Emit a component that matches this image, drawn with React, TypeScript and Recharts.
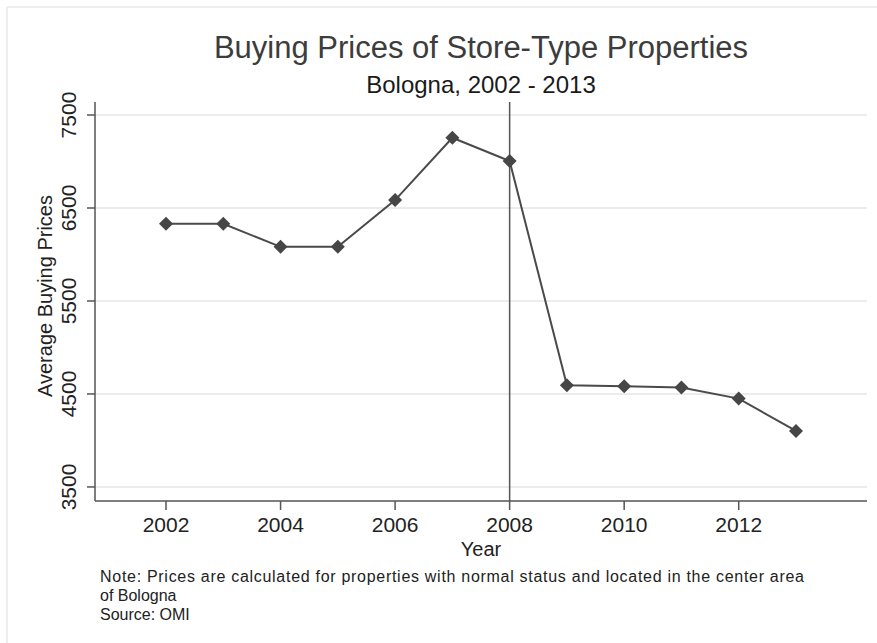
import React from 'react';
import { LineChart, Line, XAxis, YAxis, CartesianGrid, ReferenceLine } from 'recharts';

const years = [2002, 2003, 2004, 2005, 2006, 2007, 2008, 2009, 2010, 2011, 2012, 2013];
const prices = [6330, 6330, 6082, 6082, 6585, 7256, 7005, 4594, 4583, 4569, 4450, 4102];
const xTicks = [2002, 2004, 2006, 2008, 2010, 2012];
const yTicks = [3500, 4500, 5500, 6500, 7500];

const data = years.map((year, i) => ({ year, price: prices[i] }));

const FONT = '"Liberation Sans", Arial, Helvetica, sans-serif';

const Diamond = (props: any) => {
  const { cx, cy, index } = props;
  if (cx == null || cy == null) return null;
  const r = 7;
  return (
    <polygon
      key={`d-${index}`}
      points={`${cx},${cy - r} ${cx + r},${cy} ${cx},${cy + r} ${cx - r},${cy}`}
      fill="#464646"
      stroke="none"
    />
  );
};

const YTick = (props: any) => {
  const { x, y, payload } = props;
  const bx = x - 9;
  return (
    <text
      x={bx}
      y={y}
      transform={`rotate(-90, ${bx}, ${y})`}
      textAnchor="middle"
      fontSize={21}
      fill="#222"
      fontFamily={FONT}
    >
      {payload.value}
    </text>
  );
};

export default function App() {
  return (
    <div style={{ position: 'absolute', left: 0, top: 0, width: 877, height: 643, background: '#fff', fontFamily: FONT }}>
      <LineChart width={877} height={643} data={data} margin={{ top: 102, right: 10, bottom: 0, left: 0 }}>
        <CartesianGrid horizontal vertical={false} stroke="#e6e6e6" strokeWidth={1.5} syncWithTicks />
        <XAxis
          dataKey="year"
          type="number"
          domain={[2000.76, 2014.24]}
          ticks={xTicks}
          allowDataOverflow
          height={142}
          tickSize={9}
          tickMargin={7}
          stroke="#555"
          strokeWidth={1.5}
          tick={{ fontSize: 21, fill: '#222', fontFamily: FONT }}
          label={(p: any) => {
            const vb = p.viewBox || { x: 95, y: 501, width: 772 };
            return (
              <text x={vb.x + vb.width / 2} y={556} textAnchor="middle" fontSize={20} fill="#222" fontFamily={FONT}>
                Year
              </text>
            );
          }}
        />
        <YAxis
          type="number"
          domain={[3349, 7640]}
          ticks={yTicks}
          allowDataOverflow
          width={95}
          tickSize={8}
          tickMargin={2}
          stroke="#555"
          strokeWidth={1.5}
          tick={<YTick />}
          label={() => (
            <text x={52} y={296} transform="rotate(-90, 52, 296)" textAnchor="middle" fontSize={20} fill="#222" fontFamily={FONT}>
              Average Buying Prices
            </text>
          )}
        />
        <ReferenceLine x={2008} stroke="#555" strokeWidth={1.5} />
        <Line
          dataKey="price"
          type="linear"
          stroke="#4a4a4a"
          strokeWidth={2}
          dot={Diamond}
          activeDot={false}
          isAnimationActive={false}
        />
      </LineChart>
      <svg width={877} height={643} style={{ position: 'absolute', left: 0, top: 0, pointerEvents: 'none' }}>
        <line x1={7} y1={7} x2={877} y2={7} stroke="#e8e8e8" strokeWidth={1.5} />
        <line x1={7} y1={7} x2={7} y2={643} stroke="#e8e8e8" strokeWidth={1.5} />
        <text x={481} y={58} textAnchor="middle" fontSize={31} fill="#3c3c3c" fontFamily={FONT}>
          Buying Prices of Store-Type Properties
        </text>
        <text x={481} y={93} textAnchor="middle" fontSize={24} fill="#1a1a1a" fontFamily={FONT}>
          Bologna, 2002 - 2013
        </text>
        <text x={100} y={582} fontSize={16} fill="#222" fontFamily={FONT} textLength={704} lengthAdjust="spacing">
          Note: Prices are calculated for properties with normal status and located in the center area
        </text>
        <text x={100} y={601} fontSize={16} fill="#222" fontFamily={FONT}>
          of Bologna
        </text>
        <text x={100} y={620} fontSize={16} fill="#222" fontFamily={FONT}>
          Source: OMI
        </text>
      </svg>
    </div>
  );
}
